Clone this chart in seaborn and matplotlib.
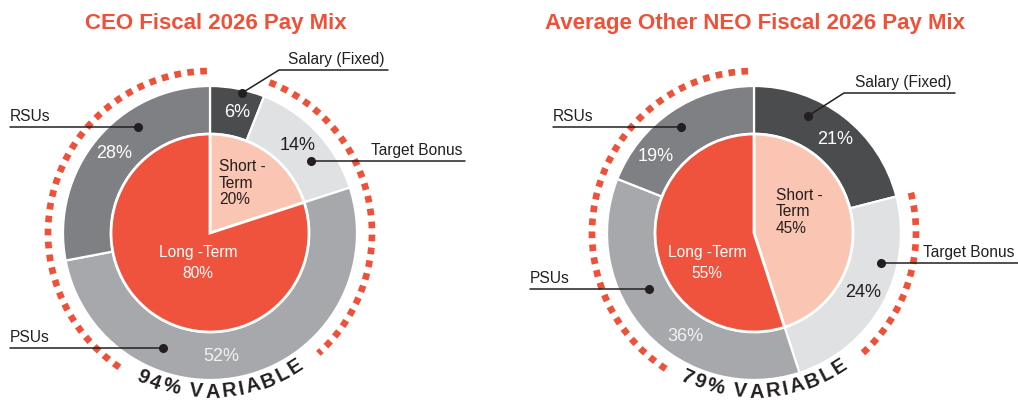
import numpy as np
import matplotlib
matplotlib.use("Agg")
import matplotlib.pyplot as plt
import seaborn as sns
from matplotlib.textpath import TextToPath
from matplotlib.font_manager import FontProperties

# ---- data -------------------------------------------------------------
components = ["Salary (Fixed)", "Target Bonus", "PSUs", "RSUs"]
horizons = ["Short -\nTerm", "Long -Term"]

ceo_title = "CEO Fiscal 2026 Pay Mix"
ceo_mix = [6, 14, 52, 28]
ceo_horizon = [20, 80]
ceo_variable = 94

neo_title = "Average Other NEO Fiscal 2026 Pay Mix"
neo_mix = [21, 24, 36, 19]
neo_horizon = [45, 55]
neo_variable = 79

# ---- style ------------------------------------------------------------
sns.set_theme(style="white")
plt.rcParams["font.family"] = ["Liberation Sans", "DejaVu Sans"]

RED = "#EF5138"
ring_colors = sns.color_palette(["#4B4C4E", "#E0E1E3", "#A7A8AB", "#7F8083"])
inner_colors = sns.color_palette(["#FAC6B3", "#F0533D"])
pct_colors = ["white", "#231F20", "#F2F2F2", "white"]
inner_text_colors = ["#231F20", "white"]
INK = "#231F20"

R_OUT, R_IN, R_DOT = 147, 99, 162
DPI = 100

fig = plt.figure(figsize=(10.18, 4.0), dpi=DPI)
ax = fig.add_axes([0, 0, 1, 1])


def polar(center, theta_deg, r):
    """Point at clockwise angle theta (from 12 o'clock) and radius r."""
    t = np.deg2rad(theta_deg)
    return center[0] + r * np.sin(t), center[1] + r * np.cos(t)


def curved_text(ax, s, center, radius, theta_c, size, tracking, color):
    fp = FontProperties(family="Liberation Sans", weight="bold", size=size)
    ttp = TextToPath()
    scale = DPI / 72.0
    base = ttp.get_text_width_height_descent("||", fp, ismath=False)[0]
    adv = [(ttp.get_text_width_height_descent("|" + ch + "|", fp, ismath=False)[0] - base) * scale
           for ch in s]
    total = sum(adv) + tracking * (len(s) - 1)
    pos = -total / 2
    for ch, a in zip(s, adv):
        mid = pos + a / 2
        theta = theta_c - np.rad2deg(mid / radius)
        x, y = polar(center, theta, radius)
        ax.text(x, y, ch, fontproperties=fp, color=color, ha="center", va="baseline",
                rotation=180 - theta, rotation_mode="anchor")
        pos += a + tracking


def draw_panel(ax, center, mix, horizon, variable, title, layout):
    cx, cy = center
    # outer ring: pay components
    ax.pie(mix, radius=R_OUT, center=center, startangle=90, counterclock=False,
           colors=ring_colors,
           wedgeprops=dict(width=R_OUT - R_IN, edgecolor="white", linewidth=1.6))
    # inner pie: short vs long term
    ax.pie(horizon, radius=R_IN, center=center, startangle=90, counterclock=False,
           colors=inner_colors, wedgeprops=dict(edgecolor="white", linewidth=2.0))

    # percentage labels on the ring
    cum = np.cumsum(mix)
    for v, c, col, nudge in zip(mix, cum, pct_colors, layout["pct_nudge"]):
        theta = 360 * (c - v / 2) / 100 + nudge
        x, y = polar(center, theta, 124)
        ax.text(x, y, f"{v}%", ha="center", va="center", fontsize=13, color=col)

    # inner labels
    (sdx, sdy), (ldx, ldy) = layout["inner"]
    ax.text(cx + sdx, cy + sdy, f"{horizons[0]}\n{horizon[0]}%", ha="left", va="center",
            fontsize=11.2, color=inner_text_colors[0], linespacing=1.15)
    ax.text(cx + ldx, cy + ldy, f"{horizons[1]}\n{horizon[1]}%", ha="center", va="center",
            fontsize=11.2, color=inner_text_colors[1], linespacing=1.5)

    # dotted arc around the variable share, open at the bottom for its caption
    start = 360 * (100 - variable) / 100
    gc, gw = layout["gap"]
    for a, b in [(start, gc - gw), (gc + gw, 360)]:
        th = np.linspace(a, b, 400)
        xs, ys = polar(center, th, R_DOT)
        ax.plot(xs, ys, color=RED, lw=4.8, linestyle=(0, (1.0, 0.95)),
                dash_capstyle="butt", solid_capstyle="butt")
    curved_text(ax, f"{variable}% VARIABLE", center, 164.5, gc, 14.5, 2.6, INK)

    # callouts
    for name, spec in zip(components, layout["callouts"]):
        dx, dy = spec["dot"]
        px, py = cx + dx, cy + dy
        ax.plot(px, py, "o", ms=5.5, color=INK, zorder=5)
        if "elbow" in spec:
            ex, ey = cx + spec["elbow"][0], cy + spec["elbow"][1]
            ax.plot([px, ex, cx + spec["end"]], [py, ey, ey], color=INK, lw=1.1)
            ly = ey
        else:
            ax.plot([px, cx + spec["end"]], [py, py], color=INK, lw=1.1)
            ly = py
        ax.text(cx + spec["text"], ly + 6, name, ha="left", va="baseline",
                fontsize=11.2, color=INK)

    ax.text(cx + layout["title_dx"], 377, title, ha="center", va="center",
            fontsize=16, fontweight="bold", color=RED)


ceo_layout = dict(
    pct_nudge=[2, -2, 9, 0],
    inner=[(9, 50), (-12, -30)],
    gap=(176, 38),
    title_dx=6,
    callouts=[
        dict(dot=(32, 140), elbow=(69, 163), end=178, text=78),
        dict(dot=(101, 72), end=255, text=161),
        dict(dot=(-47, -115), end=-200, text=-200),
        dict(dot=(-72, 106), end=-200, text=-200),
    ],
)

neo_layout = dict(
    pct_nudge=[3, 0, -13, -18],
    inner=[(22, 21), (-47, -30)],
    gap=(176, 37),
    title_dx=1,
    callouts=[
        dict(dot=(54, 117), elbow=(90, 140), end=201, text=101),
        dict(dot=(127, -30), end=264, text=169),
        dict(dot=(-105, -56), end=-224, text=-224),
        dict(dot=(-73, 106), end=-201, text=-201),
    ],
)

draw_panel(ax, (210, 167), ceo_mix, ceo_horizon, ceo_variable, ceo_title, ceo_layout)
draw_panel(ax, (754, 167), neo_mix, neo_horizon, neo_variable, neo_title, neo_layout)

ax.set_xlim(0, 1018)
ax.set_ylim(0, 400)
ax.set_aspect("equal")
ax.axis("off")

fig.savefig("out.png", dpi=DPI, facecolor="white")
